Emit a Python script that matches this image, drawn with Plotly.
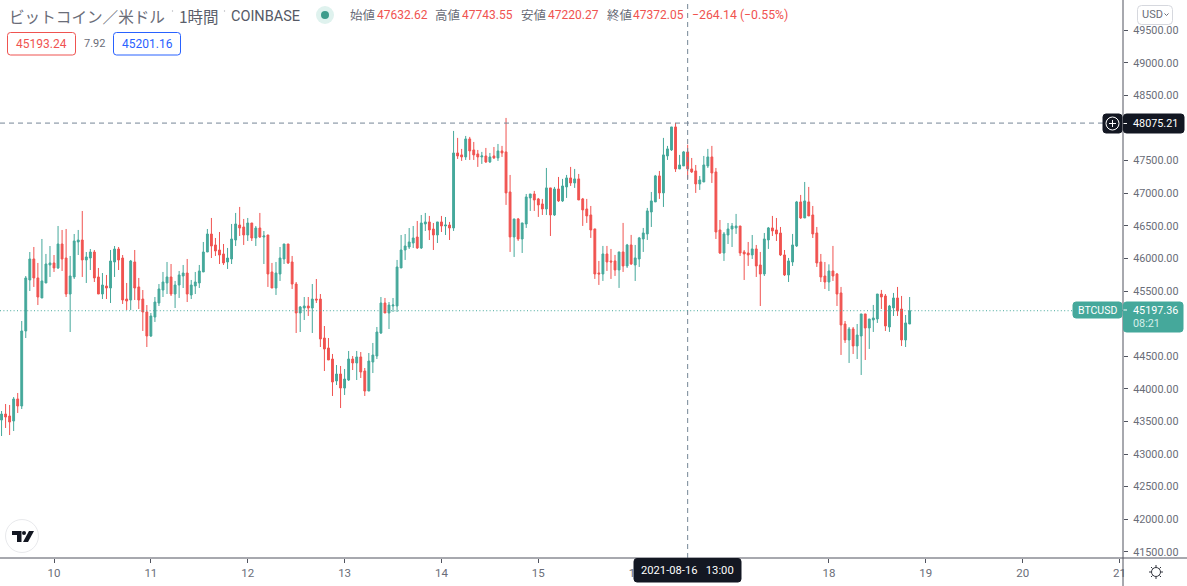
import pandas as pd
import plotly.graph_objects as go

# BTC/USD hourly candles
start_time = "2021-08-09 11:00"

opens = [43521,43613,43583,43506,43844,43736,44887,45669,45991,45700,45393,45623,45899,45930,45853,46221,46006,45454,45715,46252,
46282,45976,46006,46098,45715,45454,45577,45546,45945,46144,46006,45377,45362,45945,45562,45377,45178,44810,45101,45316,
45515,45623,45715,45454,45592,45730,45776,45439,45577,45623,45792,46098,46374,46206,46129,46068,45945,45991,46282,46512,
46482,46359,46543,46313,46466,46328,46359,45792,45546,45761,45991,46221,45945,45607,45163,45239,45270,45239,45377,45377,
44779,44626,44457,44120,44227,44012,44135,44457,44396,44488,44273,43966,44411,44503,44856,45316,45163,45270,45270,45853,
46129,46175,46236,46328,46160,46528,46559,46451,46359,46559,46497,46512,46467,47617,47587,47556,47832,47663,47602,47556,
47571,47479,47571,47541,47648,47633,47019,46329,46605,46298,46528,46927,46988,46912,46835,46758,47081,46666,47065,46881,
47096,47234,47157,47219,46912,46758,46666,46452,45777,45761,46068,45961,45961,45823,46099,45884,46206,45899,45991,46298,
46375,46712,46866,47265,47004,47571,47663,48016,47372,47418,47632.62,47372,47341,47142,47172,47418,47556,47326,46436,46083,
46359,46451,46467,46497,46099,46083,46053,46145,45899,45761,46283,46467,46436,46390,46053,45746,45945,46191,46866,46620,
46866,46666,46390,45945,45730,45638,45807,45761,45470,44994,44749,44918,44657,44810,45148,44933,45056,45071,45454,45424,
44948,45240,45393,45224,44749,44994]

highs = [43659,43767,43752,43874,43936,45040,45730,46098,46175,45930,46298,46068,46190,46052,46497,46436,46451,46037,46374,46436,
46727,46098,46144,46129,45853,45776,45746,46129,46190,46175,46052,45623,45976,46129,45700,45515,45285,45163,45408,45607,
45792,45945,45914,45654,45807,45899,45991,45669,45792,45899,46252,46451,46620,46313,46405,46221,46160,46528,46697,46789,
46605,46620,46543,46497,46697,46420,46359,45930,45945,46175,46221,46221,46037,45638,45270,45408,45408,45607,45684,45454,
44963,44779,44534,44365,44350,44304,44580,44503,44580,44564,44319,44549,44703,44948,45408,45393,45331,45393,45976,46359,
46374,46466,46497,46574,46666,46697,46651,46543,46559,46651,46635,46559,47955,47848,47679,47878,47863,47786,47663,47633,
47694,47617,47709,47755,47725,48154,47280,46605,46620,46544,46988,46988,47035,46927,46912,47387,47081,47096,47249,47219,
47280,47403,47372,47295,46927,46912,46804,46452,45961,46191,46191,46145,46053,46099,46544,46222,46360,46206,46329,46467,
46774,47019,47280,47341,47848,47725,48016,48078,47587,47648,47743.55,47540,47433,47264,47571,47679,47725,47387,46589,46405,
46543,46543,46682,46497,46129,46252,46359,46206,46099,46390,46482,46651,46620,46482,46129,46007,46375,46881,46973,47172,
47096,46804,46482,46068,45945,45909,46191,45777,45562,45040,44948,44948,44994,45148,45148,45071,45286,45454,45516,45454,
45286,45470,45562,45424,45132,45408]

lows = [43276,43399,43291,43353,43629,43690,44779,45500,45562,45285,45393,45623,45715,45792,45838,45807,45408,44871,45684,46052,
45715,45623,45822,45638,45454,45377,45377,45316,45715,45822,45301,45209,45209,45362,45224,44887,44641,44795,45025,45270,
45408,45454,45423,45239,45393,45546,45331,45377,45454,45546,45792,46098,46006,46037,45914,45899,45838,45914,46190,46344,
46206,46267,46267,46190,46313,45914,45562,45546,45439,45654,45914,45914,45531,44856,44871,45055,45117,44856,45316,44641,
44273,44442,43890,44058,43705,43905,44120,44288,44135,44166,43890,43966,44242,44457,44841,45163,44917,45178,45178,45853,
45976,46144,46160,46144,46144,46420,46282,46129,46236,46405,46359,46282,46421,47525,47495,47510,47510,47510,47403,47449,
47464,47464,47525,47495,47556,46820,46099,46022,46268,46083,46467,46728,46728,46636,46666,46666,46344,46651,46866,46866,
46927,47111,47081,46896,46498,46544,46314,45685,45593,45654,45807,45685,45731,45547,45792,45853,45899,45654,45869,46099,
46283,46482,46866,46912,46789,47510,47648,47326,47372,47418,47220.27,47310,47004,47050,47172,47387,47157,46298,46068,45961,
46221,46175,46375,46037,45669,45884,45991,45715,45270,45730,46145,46344,46267,46037,45730,45638,45884,46175,46605,46620,
46651,46313,45869,45638,45531,45500,45654,45270,44519,44703,44396,44534,44457,44212,44442,44611,44872,45010,45224,44887,
44872,45117,45117,44657,44641,44994]

closes = [43613,43567,43491,43844,43736,44887,45700,45991,45700,45408,45654,45914,45930,45853,46221,45991,45454,45730,46267,46282,
45976,46022,46098,45700,45454,45592,45546,45960,46144,45976,45362,45347,45960,45546,45362,45178,44810,45117,45331,45531,
45638,45715,45454,45592,45746,45776,45454,45592,45638,45807,46098,46374,46190,46114,46052,45930,46006,46298,46528,46466,
46359,46543,46313,46466,46328,46344,45761,45546,45776,46006,46221,45930,45607,45163,45255,45270,45239,45377,45362,44764,
44610,44442,44104,44227,44012,44150,44457,44396,44488,44258,43966,44426,44518,44871,45316,45163,45285,45285,45868,46129,
46190,46252,46313,46160,46543,46559,46436,46359,46559,46497,46512,46466,47617,47571,47556,47832,47648,47587,47556,47571,
47479,47556,47541,47648,47617,47004,46329,46605,46298,46544,46942,46988,46896,46820,46758,47081,46666,47065,46881,47111,
47234,47157,47219,46896,46743,46651,46436,45761,45761,46068,45945,45945,45823,46099,45884,46206,45915,46007,46314,46390,
46728,46881,47265,47004,47587,47679,48016,47372,47433,47633,47372.05,47326,47142,47203,47433,47556,47310,46405,46083,46375,
46451,46497,46497,46083,46068,46053,46145,45884,45761,46298,46467,46421,46375,46053,45746,45961,46206,46866,46620,46881,
46651,46375,45930,45715,45638,45807,45730,45454,44979,44749,44918,44657,44825,45148,44933,45071,45086,45454,45408,44964,
45270,45393,45194,44749,45010,45197.36]

# 17, 48000 and 45000 sit under the crosshair and price tags
day_ticks = ["2021-08-10", "2021-08-11", "2021-08-12", "2021-08-13", "2021-08-14", "2021-08-15",
             "2021-08-16", "2021-08-18", "2021-08-19", "2021-08-20", "2021-08-21"]
day_labels = ["10", "11", "12", "13", "14", "15", "16", "18", "19", "20", "21"]
price_ticks = [41500, 42000, 42500, 43000, 43500, 44000, 44500, 45500, 46000, 46500,
               47000, 47500, 48500, 49000, 49500]

GREEN = "#45a89b"
RED = "#f05350"
GRAY = "#6a6d78"
DARK = "#131722"
AXIS = "#50535e"
CROSS = "#758696"
JP = "Noto Sans CJK JP"
NUM = "Roboto, Noto Sans CJK JP"

PW = 1123.0
PH = 558.0


def px(x):
    return x / PW


def py(y):
    return 1 - y / PH


def box_path(x0, y0, x1, y1, r=3):
    return (f"M{px(x0 + r)},{py(y0)} L{px(x1 - r)},{py(y0)} Q{px(x1)},{py(y0)} {px(x1)},{py(y0 + r)} "
            f"L{px(x1)},{py(y1 - r)} Q{px(x1)},{py(y1)} {px(x1 - r)},{py(y1)} "
            f"L{px(x0 + r)},{py(y1)} Q{px(x0)},{py(y1)} {px(x0)},{py(y1 - r)} "
            f"L{px(x0)},{py(y0 + r)} Q{px(x0)},{py(y0)} {px(x0 + r)},{py(y0)} Z")


def rbox(x0, y0, x1, y1, fill, line=None, r=3):
    return dict(type="path", xref="paper", yref="paper", path=box_path(x0, y0, x1, y1, r),
                fillcolor=fill, line=dict(color=line or fill, width=1))


def circle(cx, cy, r, fill="rgba(0,0,0,0)", line=None, width=1):
    return dict(type="circle", xref="paper", yref="paper", x0=px(cx - r), x1=px(cx + r),
                y0=py(cy + r), y1=py(cy - r), fillcolor=fill,
                line=dict(color=line or fill, width=width if line else 0))


def seg(x0, y0, x1, y1, color, width=1, dash="solid"):
    return dict(type="line", xref="paper", yref="paper", x0=px(x0), x1=px(x1), y0=py(y0), y1=py(y1),
                line=dict(color=color, width=width, dash=dash))


def poly(points, fill):
    d = "M" + " L".join(f"{px(a)},{py(b)}" for a, b in points) + " Z"
    return dict(type="path", xref="paper", yref="paper", path=d, fillcolor=fill, line=dict(width=0))


def label(x, y, text, color=GRAY, size=12, anchor="left", family=NUM):
    return dict(xref="paper", yref="paper", x=px(x), y=py(y), text=text, showarrow=False,
                xanchor=anchor, yanchor="middle", borderpad=0, borderwidth=0,
                font=dict(family=family, size=size, color=color))


times = pd.date_range(start_time, periods=len(opens), freq="h")

fig = go.Figure(go.Candlestick(
    x=times, open=opens, high=highs, low=lows, close=closes,
    increasing=dict(line=dict(color=GREEN, width=1), fillcolor=GREEN),
    decreasing=dict(line=dict(color=RED, width=1), fillcolor=RED),
    hoverinfo="skip",
))

cross_time = "2021-08-16 13:00"
cross_price = 48075.21
last_price = closes[-1]

shapes = [
    dict(type="line", xref="x", yref="paper", x0=cross_time, x1=cross_time, y0=0, y1=1,
         line=dict(color=CROSS, width=1, dash="5px,4px")),
    dict(type="line", xref="paper", yref="y", x0=0, x1=1, y0=cross_price, y1=cross_price,
         line=dict(color=CROSS, width=1, dash="5px,4px")),
    dict(type="line", xref="paper", yref="y", x0=0, x1=1, y0=last_price, y1=last_price,
         line=dict(color=GREEN, width=1, dash="1px,2.4px")),
    # axis frame
    seg(1123, 0, 1123, 586, AXIS),
    seg(0, 558, 1187, 558, AXIS),
    # price tags
    rbox(1123.5, 114, 1184, 133, DARK),
    rbox(1103, 114, 1122, 133, DARK),
    circle(1112.5, 123.5, 6.5, line="#ffffff", width=1),
    seg(1109, 123.5, 1116, 123.5, "#ffffff"),
    seg(1112.5, 120, 1112.5, 127, "#ffffff"),
    seg(1123.5, 123.5, 1127, 123.5, "#ffffff"),
    rbox(1123.5, 302, 1183, 332, GREEN),
    rbox(1073, 302, 1122, 318, GREEN),
    seg(1123.5, 310, 1127, 310, "#ffffff"),
    # time tag
    rbox(634, 558.5, 741, 582, DARK),
    # header
    circle(325, 15, 9, fill="#dff2ee"),
    circle(325, 15, 4, fill="#3f9c8c"),
    circle(172.5, 11, 0.7, fill="#b4b6bc"),
    circle(224.5, 11, 0.7, fill="#b4b6bc"),
    rbox(7.5, 32.5, 75.5, 55, "#ffffff", "#ef5350"),
    rbox(113.5, 32.5, 180.5, 55, "#ffffff", "#2962ff"),
    rbox(1137.5, 5.5, 1172.5, 24.5, "#ffffff", "#d6d8de", r=4),
    seg(1164.5, 13.5, 1166.5, 15.5, GRAY),
    seg(1166.5, 15.5, 1168.5, 13.5, GRAY),
    # logo
    circle(22, 536, 16.5, fill="#ffffff", line="#e8e9ec", width=1),
    poly([(12, 531), (21.5, 531), (21.5, 542), (17, 542), (17, 535), (12, 535)], DARK),
    circle(24, 533, 2, fill=DARK),
    poly([(29, 531), (34, 531), (28, 542), (23, 542)], DARK),
    # sun icon
    circle(1156, 572, 4.5, line="#30333c", width=1),
    seg(1156, 565, 1156, 567, "#30333c"),
    seg(1156, 577, 1156, 579, "#30333c"),
    seg(1149, 572, 1151, 572, "#30333c"),
    seg(1161, 572, 1163, 572, "#30333c"),
    seg(1151, 567, 1152.5, 568.5, "#30333c"),
    seg(1159.5, 568.5, 1161, 567, "#30333c"),
    seg(1151, 577, 1152.5, 575.5, "#30333c"),
    seg(1159.5, 575.5, 1161, 577, "#30333c"),
]

annotations = [
    label(9, 16, "ビットコイン／米ドル", "#6a6d78", 15.6, family=JP),
    label(179, 16, "1時間", "#5b5f6b", 15.5, family=JP),
    label(231, 16, "COINBASE", "#555965", 14.5, family=NUM),
    label(350, 15, "始値", GRAY, 12.5, family=JP),
    label(377, 15, "47632.62", RED, 12),
    label(435, 15, "高値", GRAY, 12.5, family=JP),
    label(462, 15, "47743.55", RED, 12),
    label(521, 15, "安値", GRAY, 12.5, family=JP),
    label(548, 15, "47220.27", RED, 12),
    label(607, 15, "終値", GRAY, 12.5, family=JP),
    label(633, 15, "47372.05", RED, 12),
    label(692, 15, "−264.14 (−0.55%)", RED, 12.3),
    label(41.5, 44, "45193.24", RED, 12, "center"),
    label(94, 44, "7.92", GRAY, 11, "center"),
    label(147, 44, "45201.16", "#2962ff", 12, "center"),
    label(1152, 15, "USD", GRAY, 11, "center"),
    label(1155, 123.5, "48075.21", "#ffffff", 10.8, "center"),
    label(1155, 310, "45197.36", "#ffffff", 10.8, "center"),
    label(1146, 323, "08:21", "#d6efea", 10.8, "center"),
    label(1097.5, 310, "BTCUSD", "#ffffff", 10.5, "center"),
    label(687.5, 570.5, "2021-08-16&nbsp;&nbsp;&nbsp;13:00", "#ffffff", 11.2, "center"),
]

fig.update_layout(
    width=1187, height=586,
    margin=dict(l=0, r=64, t=0, b=28, autoexpand=False),
    paper_bgcolor="#ffffff", plot_bgcolor="#ffffff",
    showlegend=False, boxgap=0.35,
    shapes=shapes, annotations=annotations,
)
fig.update_xaxes(
    range=["2021-08-09 10:37", "2021-08-21 00:52"],
    rangeslider_visible=False, showgrid=False, zeroline=False, showline=False,
    tickmode="array", tickvals=day_ticks, ticktext=day_labels,
    ticks="outside", ticklen=4, tickcolor=AXIS, tickwidth=1,
    tickfont=dict(family=NUM, size=11.5, color=GRAY),
)
fig.update_yaxes(
    range=[41405, 49963], side="right",
    showgrid=False, zeroline=False, showline=False,
    tickmode="array", tickvals=price_ticks, tickformat=".2f",
    ticks="outside", ticklen=4, tickcolor=AXIS, tickwidth=1, ticklabelstandoff=3,
    tickfont=dict(family=NUM, size=10.8, color=GRAY),
)

fig.write_html("out.html", config=dict(displayModeBar=False),
               post_script="document.body.style.margin='0';document.body.style.overflow='hidden';")
